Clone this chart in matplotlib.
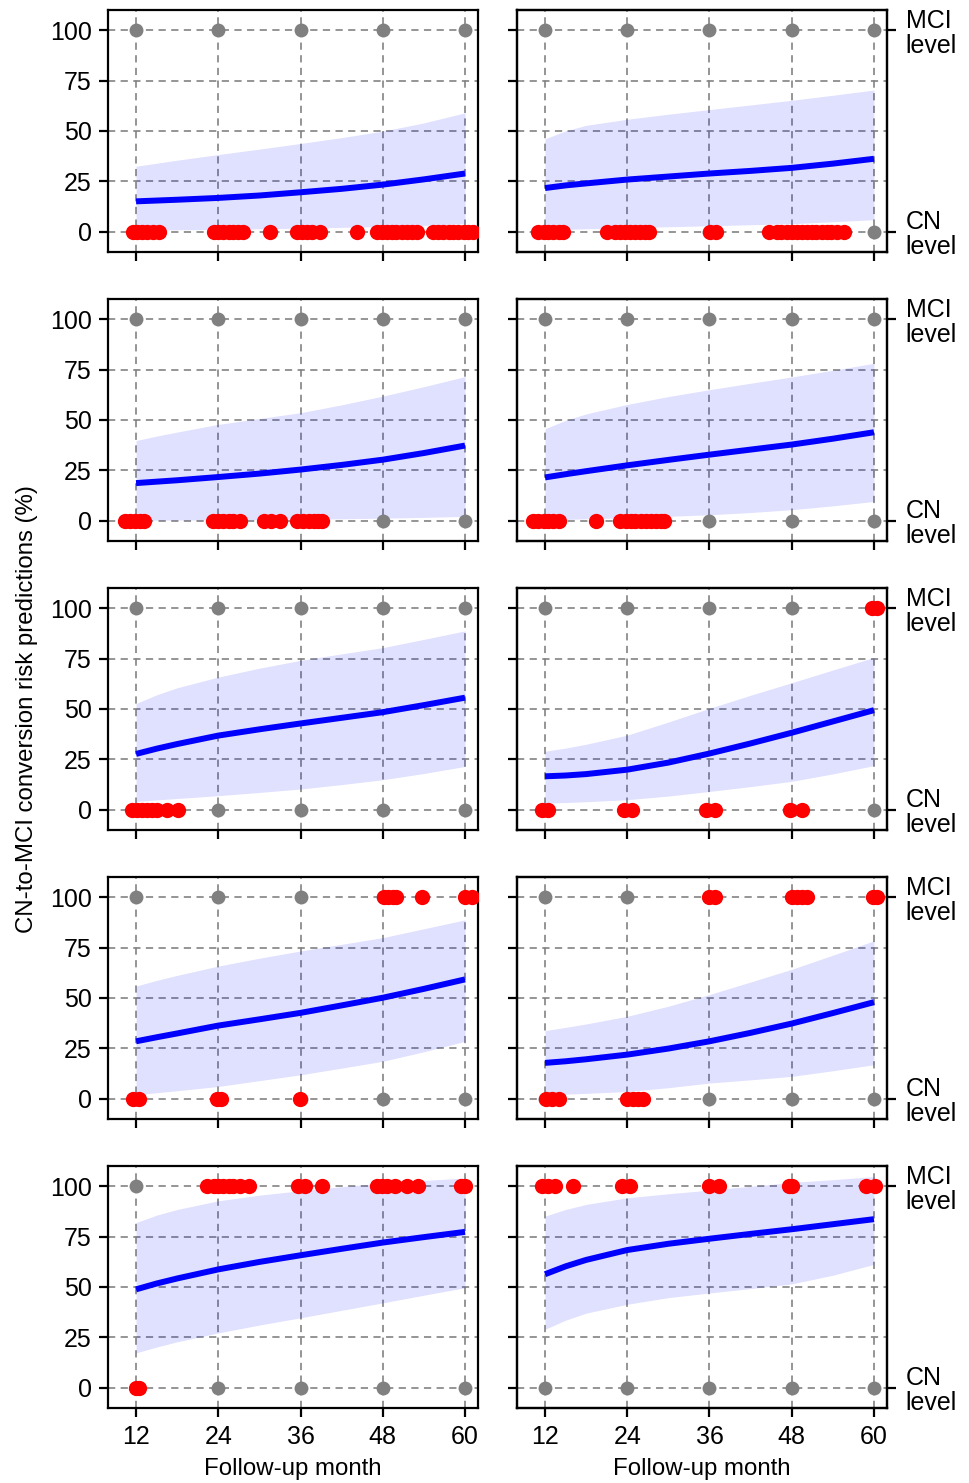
import matplotlib
matplotlib.use("Agg")
import matplotlib.pyplot as plt

plt.rcParams['font.family'] = ['Liberation Sans', 'DejaVu Sans']
plt.rcParams['font.size'] = 17.3

# ---------------- data ----------------
months = [12, 15, 18, 24, 30, 36, 42, 48, 54, 60]
grid_months = [12, 24, 36, 48, 60]

mean_curves = [
    [15.1, 15.5, 15.9, 16.8, 18.0, 19.6, 21.3, 23.4, 26.0, 28.9],
    [21.7, 23.0, 24.0, 25.9, 27.4, 28.9, 30.2, 31.7, 33.8, 36.2],
    [18.7, 19.4, 20.1, 21.7, 23.4, 25.4, 27.7, 30.3, 33.6, 37.3],
    [21.5, 23.1, 24.6, 27.5, 30.2, 32.8, 35.3, 37.8, 40.7, 43.9],
    [27.7, 30.3, 32.6, 36.8, 39.9, 42.8, 45.6, 48.4, 51.9, 55.6],
    [16.6, 17.0, 17.7, 19.9, 23.4, 27.9, 32.9, 38.2, 43.8, 49.4],
    [28.5, 30.5, 32.4, 36.3, 39.4, 42.6, 46.3, 50.1, 54.5, 59.2],
    [17.8, 18.6, 19.6, 21.9, 24.9, 28.5, 32.7, 37.3, 42.5, 47.9],
    [48.8, 51.7, 54.2, 58.7, 62.4, 65.7, 68.9, 72.0, 74.7, 77.3],
    [56.3, 60.2, 63.4, 68.3, 71.4, 73.9, 76.3, 78.6, 81.1, 83.6],
]
upper_curves = [
    [32.5, 34.0, 35.5, 38.3, 41.0, 43.8, 46.7, 49.9, 54.0, 59.0],
    [46.1, 50.0, 52.8, 55.8, 58.3, 60.6, 62.9, 65.2, 67.7, 70.3],
    [39.8, 42.0, 44.0, 47.8, 50.7, 53.6, 57.5, 61.8, 66.5, 71.5],
    [45.6, 49.8, 53.0, 57.7, 61.6, 65.0, 68.2, 71.3, 74.6, 78.1],
    [52.7, 57.0, 60.5, 65.8, 70.2, 74.1, 77.3, 80.4, 84.5, 88.7],
    [29.0, 30.6, 32.5, 37.0, 43.5, 50.3, 56.8, 63.0, 69.3, 75.5],
    [55.9, 58.7, 61.2, 65.8, 69.7, 73.3, 76.6, 79.9, 84.3, 88.7],
    [33.8, 35.4, 37.1, 40.9, 45.9, 51.7, 57.9, 64.2, 71.2, 78.3],
    [81.9, 85.6, 88.4, 92.7, 95.5, 97.7, 99.7, 101.5, 102.8, 104.0],
    [85.1, 88.4, 90.9, 94.2, 96.2, 98.0, 99.9, 101.8, 103.2, 104.7],
]
lower_curves = [
    [0.8, 0.9, 1.0, 1.2, 1.5, 1.8, 2.2, 2.6, 3.2, 4.0],
    [1.0, 1.2, 1.5, 2.0, 2.5, 3.0, 3.5, 4.0, 5.0, 6.0],
    [0.3, 0.35, 0.4, 0.5, 0.6, 0.8, 1.0, 1.3, 1.7, 2.2],
    [0.5, 0.7, 1.0, 1.5, 2.2, 3.0, 4.1, 5.5, 7.4, 9.6],
    [4.1, 4.9, 5.6, 7.0, 8.6, 10.3, 12.5, 14.9, 18.0, 21.5],
    [3.3, 3.6, 4.0, 5.0, 6.8, 9.1, 11.5, 14.1, 17.8, 21.9],
    [2.0, 3.0, 4.0, 6.1, 9.0, 11.9, 15.2, 18.6, 23.3, 28.5],
    [2.0, 2.3, 2.7, 3.6, 5.5, 7.8, 9.4, 11.1, 13.9, 16.9],
    [17.3, 20.2, 22.8, 27.2, 31.1, 34.7, 38.4, 42.1, 45.9, 49.6],
    [29.0, 33.5, 37.0, 41.4, 44.7, 47.0, 49.2, 51.5, 55.8, 61.2],
]

# observed visits at CN level (0) and MCI level (100)
cn_visits = [
    [11.5, 12.1, 12.8, 13.6, 14.5, 15.3, 23.3, 24.0, 24.7, 25.5, 26.2, 26.9, 27.6,
     31.5, 35.5, 36.2, 36.9, 37.6, 38.9, 44.3, 47.1, 47.9, 48.6, 49.3, 50.0, 50.8,
     51.5, 52.2, 53.0, 55.4, 56.1, 56.8, 57.6, 58.3, 59.0, 59.8, 60.5, 61.2],
    [11.0, 11.8, 12.5, 13.2, 14.0, 14.7, 21.1, 22.2, 22.9, 23.7, 24.4, 25.1, 25.9,
     26.6, 27.2, 36.1, 37.0, 44.7, 45.8, 46.5, 47.3, 48.0, 48.7, 49.5, 50.2, 50.9,
     51.6, 52.4, 53.1, 53.8, 54.6, 55.7],
    [10.4, 11.1, 11.9, 12.6, 13.2, 23.2, 24.0, 24.7, 25.5, 26.2, 27.2, 30.6, 31.7,
     33.0, 35.5, 36.4, 37.2, 37.9, 38.6, 39.2],
    [10.2, 11.0, 11.8, 12.5, 13.2, 14.0, 19.5, 23.0, 23.8, 24.5, 25.2, 26.0, 26.7,
     27.4, 28.2, 28.9, 29.3],
    [11.4, 12.1, 12.8, 13.6, 14.3, 15.0, 16.5, 18.1],
    [11.6, 12.5, 23.5, 24.7, 35.5, 36.8, 47.7, 49.5],
    [11.6, 12.4, 23.8, 24.4, 35.9],
    [12.1, 13.0, 14.0, 24.0, 24.9, 25.6, 26.3],
    [12.0, 12.4],
    [],
]
mci_visits = [
    [],
    [],
    [],
    [],
    [],
    [59.7, 60.5],
    [48.2, 48.8, 49.5, 50.0, 53.7, 60.0, 61.0],
    [35.9, 36.8, 48.0, 48.7, 49.5, 50.2, 59.9, 60.4],
    [22.4, 23.3, 24.0, 24.7, 25.5, 26.2, 27.2, 28.5, 35.6, 36.6, 39.2, 47.1, 47.9,
     48.6, 49.8, 51.5, 53.1, 59.4, 60.0],
    [11.5, 12.5, 13.4, 16.1, 23.3, 24.4, 36.0, 37.4, 47.6, 48.0, 58.9, 60.1],
]

y_ticks = [0, 25, 50, 75, 100]
level_ticks = [0, 100]
level_labels = ['CN\nlevel', 'MCI\nlevel']

TICK_FS = 18

# ---------------- figure ----------------
fig, axes = plt.subplots(5, 2, figsize=(9.7, 14.83), dpi=100)
fig.subplots_adjust(left=0.1113, right=0.9144, top=0.9933, bottom=0.0506,
                    wspace=0.105, hspace=0.194)

for i, ax in enumerate(axes.flat):
    row, col = divmod(i, 2)
    ax.set_xlim(7.9, 61.9)
    ax.set_ylim(-10, 110)
    ax.set_xticks(grid_months)
    ax.set_yticks(y_ticks)
    ax.grid(True, linestyle='--', color='gray', linewidth=1.3, alpha=0.9, dashes=(4, 3))
    ax.set_axisbelow(True)
    for s in ax.spines.values():
        s.set_linewidth(1.6)
    ax.tick_params(width=1.6, length=6.5, labelsize=TICK_FS)
    ax.tick_params(axis='y', pad=5)
    ax.tick_params(axis='x', pad=6)

    ax.fill_between(months, lower_curves[i], upper_curves[i], color='blue',
                    alpha=0.12, linewidth=0, zorder=2)
    ax.plot(months, mean_curves[i], color='blue', linewidth=4.3,
            solid_capstyle='butt', zorder=3)

    gx = grid_months * 2
    gy = [0] * len(grid_months) + [100] * len(grid_months)
    ax.plot(gx, gy, 'o', color='gray', markersize=10, markeredgewidth=0, zorder=4)

    if cn_visits[i]:
        ax.plot(cn_visits[i], [0] * len(cn_visits[i]), 'o', color='red',
                markersize=11, markeredgewidth=0, zorder=5)
    if mci_visits[i]:
        ax.plot(mci_visits[i], [100] * len(mci_visits[i]), 'o', color='red',
                markersize=11, markeredgewidth=0, zorder=5)

    if col == 1:
        ax.set_yticklabels([])
        ax2 = ax.twinx()
        ax2.set_ylim(-10, 110)
        ax2.set_yticks(level_ticks)
        ax2.set_yticklabels(level_labels, linespacing=1.05)
        ax2.tick_params(width=1.6, length=6.5, labelsize=TICK_FS, pad=7)
        for s in ax2.spines.values():
            s.set_linewidth(1.6)
    if row < 4:
        ax.set_xticklabels([])
    else:
        ax.set_xlabel('Follow-up month', labelpad=6)

fig.text(27 / 970, 1 - 709 / 1483, 'CN-to-MCI conversion risk predictions (%)',
         rotation=90, ha='center', va='center', fontsize=17.3)

fig.savefig('out.png', dpi=100)
